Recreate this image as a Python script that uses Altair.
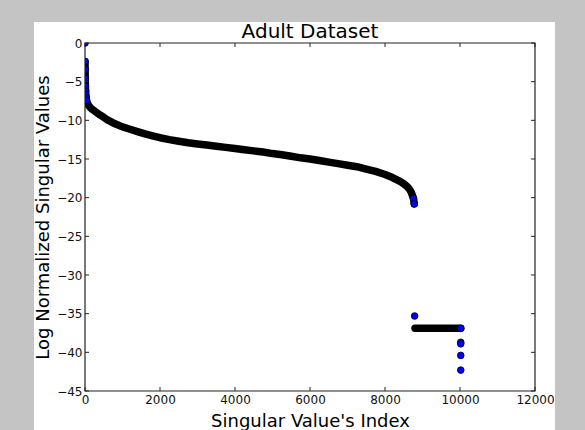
import altair as alt
import pandas as pd

# ---- data ----
# main descending curve (dense band of markers)
curve_index = [1, 3, 6, 10, 20, 40, 60, 100, 150, 200, 300, 400, 500, 600, 800,
               1000, 1200, 1400, 1600, 1800, 2000, 2250, 2500, 2750, 3000, 3250,
               3500, 3750, 4000, 4250, 4500, 4750, 5000, 5250, 5500, 5750, 6000,
               6250, 6500, 6750, 7000, 7250, 7500, 7750, 8000, 8200, 8400, 8500,
               8600, 8650, 8700, 8730, 8760, 8780]
curve_value = [-2.4, -3.4, -4.6, -5.6, -6.7, -7.4, -7.8, -8.1, -8.4, -8.6, -8.95,
               -9.3, -9.6, -9.95, -10.45, -10.85, -11.15, -11.45, -11.75, -12.0,
               -12.25, -12.5, -12.7, -12.9, -13.05, -13.2, -13.35, -13.5, -13.65,
               -13.8, -13.95, -14.1, -14.3, -14.45, -14.65, -14.85, -15.0, -15.2,
               -15.4, -15.6, -15.8, -16.0, -16.3, -16.6, -17.0, -17.4, -17.9,
               -18.2, -18.6, -18.9, -19.3, -19.7, -20.1, -20.8]
# flat group of near-zero singular values
plateau_index = [8800, 9000, 9200, 9400, 9600, 9800, 10020]
plateau_value = [-36.9, -36.9, -36.9, -36.9, -36.9, -36.9, -36.9]
# individually visible markers
point_index = [0, 1, 3, 6, 10, 15, 20, 30, 40, 8760, 8780, 8790, 10020, 10020,
               10020, 10020, 10020]
point_value = [0.0, -2.4, -3.4, -4.6, -5.6, -6.2, -6.7, -7.1, -7.4, -20.1, -20.8,
               -35.3, -36.9, -38.7, -38.9, -40.4, -42.3]

x_ticks = [0, 2000, 4000, 6000, 8000, 10000, 12000]
y_ticks = [0, -5, -10, -15, -20, -25, -30, -35, -40, -45]

title_text = "Adult Dataset"
x_title = "Singular Value's Index"
y_title = "Log Normalized Singular Values"

# ---- frames ----
curves = pd.concat([
    pd.DataFrame({"i": curve_index, "v": curve_value, "seg": "main"}),
    pd.DataFrame({"i": plateau_index, "v": plateau_value, "seg": "plateau"}),
])
points = pd.DataFrame({"i": point_index, "v": point_value})
xt = pd.DataFrame({"t": x_ticks})
yt = pd.DataFrame({"t": y_ticks})
one = pd.DataFrame({"a": [0]})

W, H = 450, 348
FONT = "DejaVu Sans"

xscale = alt.Scale(domain=[0, 12000], nice=False, zero=False)
yscale = alt.Scale(domain=[-45, 0], nice=False, zero=False)
xaxis = alt.Axis(values=x_ticks, ticks=False, domain=False, grid=False,
                 labelFlush=False, labelPadding=3, labelFontSize=12,
                 labelColor="#111", labelFont=FONT, format="d",
                 title=x_title, titleFontSize=18, titleFont=FONT,
                 titleFontWeight="normal", titleColor="#000",
                 titleX=W / 2, titleY=35, titleBaseline="alphabetic",
                 titleAlign="center", labelOverlap=False, zindex=1)
yaxis = alt.Axis(values=y_ticks, ticks=False, domain=False, grid=False,
                 labelFlush=False, labelPadding=3, labelFontSize=12,
                 labelColor="#111", labelFont=FONT, format="d",
                 title=y_title, titleFontSize=18, titleFont=FONT,
                 titleFontWeight="normal", titleColor="#000",
                 titleAngle=-90, titleX=-37, titleY=H / 2,
                 titleBaseline="alphabetic", titleAlign="center",
                 labelOverlap=False, zindex=1)


def X(field):
    return alt.X(field, type="quantitative", scale=xscale, axis=xaxis)


def Y(field):
    return alt.Y(field, type="quantitative", scale=yscale, axis=yaxis)


# white figure panel behind everything
bg = alt.Chart(one).mark_rect(color="white").encode(
    x=alt.value(-51), x2=alt.value(470), y=alt.value(-21), y2=alt.value(400)
)
# axes frame
frame = alt.Chart(one).mark_rect(filled=False, stroke="#222", strokeWidth=1.2).encode(
    x=alt.value(0), x2=alt.value(W), y=alt.value(0), y2=alt.value(H)
)
title = alt.Chart(one).mark_text(
    text=title_text, font=FONT, fontSize=20, color="#000",
    align="center", baseline="alphabetic"
).encode(x=alt.value(W / 2), y=alt.value(-5.5))

line = alt.Chart(curves).mark_line(
    color="black", strokeWidth=7.5, strokeCap="round", strokeJoin="round", clip=True
).encode(x=X("i"), y=Y("v"), detail="seg:N", order="i:Q")

pts = alt.Chart(points).mark_point(
    shape="circle", filled=True, fill="#0000ff", stroke="black",
    strokeWidth=0.8, size=45, opacity=1, clip=True
).encode(x=X("i"), y=Y("v"))

tick_kw = dict(color="#222", strokeWidth=1)
xb = alt.Chart(xt).mark_rule(**tick_kw).encode(x=X("t"), y=alt.value(H), y2=alt.value(H - 4))
xtop = alt.Chart(xt).mark_rule(**tick_kw).encode(x=X("t"), y=alt.value(0), y2=alt.value(4))
yl = alt.Chart(yt).mark_rule(**tick_kw).encode(y=Y("t"), x=alt.value(0), x2=alt.value(4))
yr = alt.Chart(yt).mark_rule(**tick_kw).encode(y=Y("t"), x=alt.value(W), x2=alt.value(W - 4))

chart = alt.layer(bg, line, pts, xb, xtop, yl, yr, frame, title).properties(
    width=W, height=H,
    padding={"left": 85, "top": 43, "right": 50, "bottom": 39},
    autosize="none",
    background="#c4c4c4",
).configure_view(stroke=None, fill="white")

chart.save("out.html", embed_options={"renderer": "svg", "actions": False})
